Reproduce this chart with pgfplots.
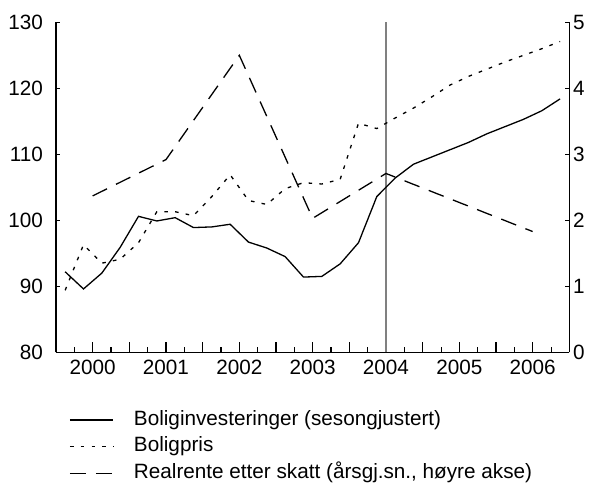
\documentclass[border=0pt]{standalone}
\usepackage{fontspec}
\setmainfont{Liberation Sans}
\usepackage{pgfplots}
\pgfplotsset{compat=1.18}
\pgfplotsset{
 base/.style={
  scale only axis, width=256.65pt, height=165pt,
  at={(28pt,65.85pt)}, anchor=south west,
  xmin=2000, xmax=2007,
  /pgf/number format/assume math mode=true,
  tick align=inside,
  axis line style={line width=0.6pt},
  every tick/.style={black, line width=0.6pt},
  major tick length=2pt,
  ticklabel style={font=\fontsize{10.35}{12}\selectfont},
 },
 solidser/.style={black, line width=0.65pt},
 dotser/.style={black, line width=0.65pt, dash pattern=on 1.8pt off 3.6pt},
 dashser/.style={black, line width=0.65pt, dash pattern=on 8pt off 5pt},
}
\begin{document}
\begin{tikzpicture}[font=\fontsize{10.35}{12}\selectfont]
\path[use as bounding box] (0,0) rectangle (297.5pt,242pt);
\begin{axis}[base,
  ymin=80, ymax=130, ytick={80,90,...,130},
  axis y line*=left, axis x line*=bottom,
  xtick={2001,2002,2003,2004,2005,2006}, xticklabels={},
  xtick style={/pgfplots/major tick length=5pt},
  minor xtick={2000.25,2000.5,...,2006.75},
  minor tick length=2.5pt,
  extra x ticks={2000.5,2001.5,2002.5,2003.5,2004.5,2005.5,2006.5},
  extra x tick labels={2000,2001,2002,2003,2004,2005,2006},
  extra x tick style={/pgfplots/major tick length=0pt},
  xticklabel style={yshift=-0.5pt},
  yticklabel style={xshift=-3pt},
]
\addplot[gray, line width=0.6pt] coordinates {(2004.5,80) (2004.5,130)};
\addplot[solidser] coordinates {
(2000.125,92.2) (2000.375,89.6) (2000.625,92.0) (2000.875,95.9)
(2001.125,100.6) (2001.375,99.9) (2001.625,100.4) (2001.875,98.9)
(2002.125,99.0) (2002.375,99.4) (2002.625,96.7) (2002.875,95.8)
(2003.125,94.5) (2003.375,91.4) (2003.625,91.5) (2003.875,93.4)
(2004.125,96.6) (2004.375,103.6) (2004.625,106.4) (2004.875,108.5)
(2005.125,109.6) (2005.375,110.7) (2005.625,111.8) (2005.875,113.1)
(2006.125,114.2) (2006.375,115.3) (2006.625,116.6) (2006.875,118.4)
};
\addplot[dotser] coordinates {
(2000.125,89.4) (2000.375,96.3) (2000.625,93.5) (2000.875,94.1)
(2001.125,96.6) (2001.375,101.3) (2001.625,101.3) (2001.875,100.7)
(2002.125,103.6) (2002.375,106.9) (2002.625,103.0) (2002.875,102.4)
(2003.125,104.8) (2003.375,105.7) (2003.625,105.5) (2003.875,106.2)
(2004.125,114.7) (2004.375,113.9) (2004.625,115.5) (2004.875,117.0)
(2005.125,118.7) (2005.375,120.5) (2005.625,121.8) (2005.875,122.9)
(2006.125,124.0) (2006.375,125.0) (2006.625,126.0) (2006.875,127.1)
};
\end{axis}
\begin{axis}[base,
  ymin=0, ymax=5, ytick={0,1,...,5},
  axis y line*=right, axis x line=none,
  yticklabel style={xshift=-1.6pt},
  legend style={at={(axis description cs:0.0259,-0.1757)}, anchor=north west,
    draw=none, fill=none, inner sep=0pt, outer sep=0pt,
    row sep=3.65pt, column sep=10pt,
    nodes={inner sep=0pt, text height=7.5pt, text depth=2.2pt},
    font=\fontsize{10.35}{12}\selectfont},
  legend cell align=left,
  legend image code/.code={\draw[#1] (0pt,0pt) -- (21.7pt,0pt);},
]
\addlegendimage{solidser}
\addlegendimage{dotser}
\addplot[dashser] coordinates {
(2000.5,2.37) (2001.5,2.92) (2002.5,4.50) (2003.5,2.03)
(2004.5,2.71) (2005.5,2.27) (2006.5,1.83)
};
\legend{Boliginvesteringer (sesongjustert), Boligpris, {Realrente etter skatt (årsgj.sn., høyre akse)}}
\end{axis}
\end{tikzpicture}
\end{document}
